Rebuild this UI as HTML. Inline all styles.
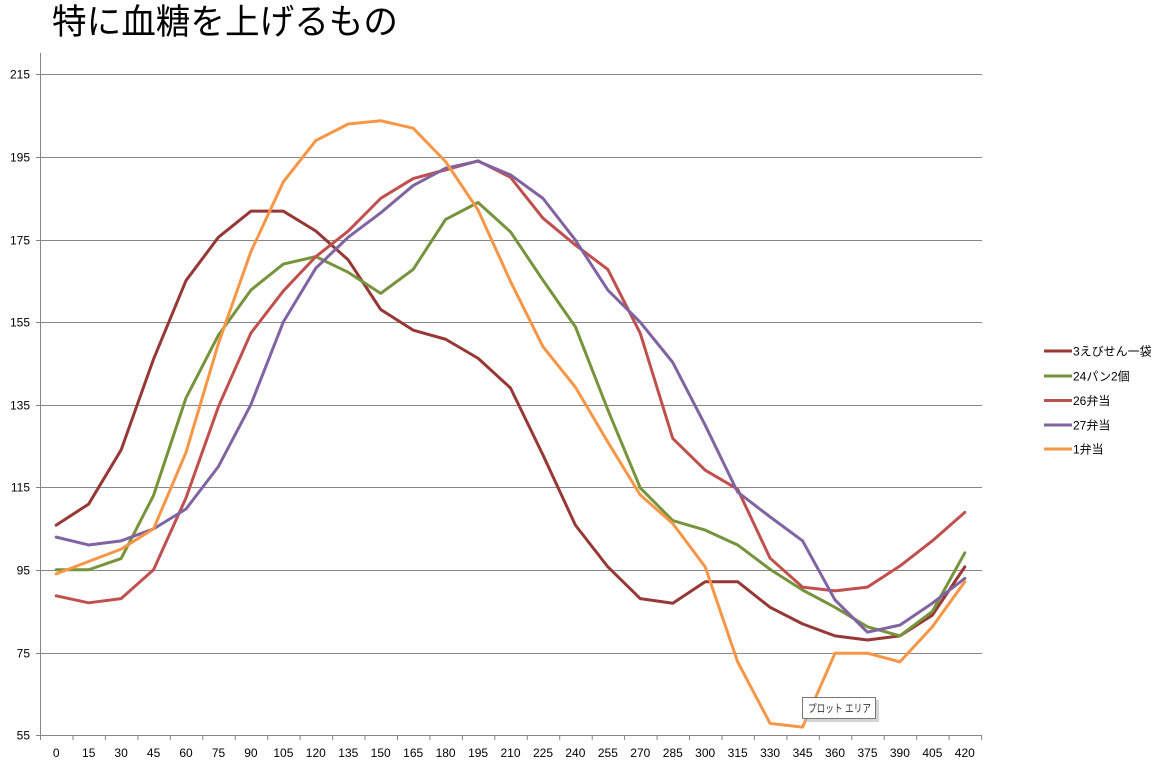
<!DOCTYPE html>
<html>
<head>
<meta charset="utf-8">
<style>
html,body{margin:0;padding:0;background:#fff;}
body{width:1172px;height:772px;overflow:hidden;}
svg{display:block;}
text{font-family:"Liberation Sans","Noto Sans CJK JP",sans-serif;}
</style>
</head>
<body>
<svg width="1172" height="772" viewBox="0 0 1172 772" xmlns="http://www.w3.org/2000/svg">
<rect width="1172" height="772" fill="#fff"/>
<text x="52" y="34" font-size="35" fill="#000" textLength="346" lengthAdjust="spacingAndGlyphs" style="font-family:'Noto Sans CJK JP','Liberation Sans',sans-serif;">特に血糖を上げるもの</text>

<!-- gridlines -->
<g stroke="#868686" stroke-width="1">
<line x1="36" y1="74.5" x2="982" y2="74.5"/>
<line x1="36" y1="157.5" x2="982" y2="157.5"/>
<line x1="36" y1="240.5" x2="982" y2="240.5"/>
<line x1="36" y1="322.5" x2="982" y2="322.5"/>
<line x1="36" y1="405.5" x2="982" y2="405.5"/>
<line x1="36" y1="487.5" x2="982" y2="487.5"/>
<line x1="36" y1="570.5" x2="982" y2="570.5"/>
<line x1="36" y1="653.5" x2="982" y2="653.5"/>
<line x1="36" y1="735.5" x2="982" y2="735.5"/>
<line x1="40.5" y1="53" x2="40.5" y2="736"/>
</g>
<!-- x ticks -->
<g stroke="#868686" stroke-width="1">
<line x1="40.5" y1="735" x2="40.5" y2="740"/><line x1="73" y1="735" x2="73" y2="740"/><line x1="105.4" y1="735" x2="105.4" y2="740"/><line x1="137.9" y1="735" x2="137.9" y2="740"/><line x1="170.3" y1="735" x2="170.3" y2="740"/><line x1="202.8" y1="735" x2="202.8" y2="740"/><line x1="235.2" y1="735" x2="235.2" y2="740"/><line x1="267.7" y1="735" x2="267.7" y2="740"/><line x1="300.1" y1="735" x2="300.1" y2="740"/><line x1="332.6" y1="735" x2="332.6" y2="740"/><line x1="365" y1="735" x2="365" y2="740"/><line x1="397.5" y1="735" x2="397.5" y2="740"/><line x1="429.9" y1="735" x2="429.9" y2="740"/><line x1="462.4" y1="735" x2="462.4" y2="740"/><line x1="494.8" y1="735" x2="494.8" y2="740"/><line x1="527.3" y1="735" x2="527.3" y2="740"/><line x1="559.7" y1="735" x2="559.7" y2="740"/><line x1="592.2" y1="735" x2="592.2" y2="740"/><line x1="624.6" y1="735" x2="624.6" y2="740"/><line x1="657.1" y1="735" x2="657.1" y2="740"/><line x1="689.5" y1="735" x2="689.5" y2="740"/><line x1="722" y1="735" x2="722" y2="740"/><line x1="754.4" y1="735" x2="754.4" y2="740"/><line x1="786.9" y1="735" x2="786.9" y2="740"/><line x1="819.3" y1="735" x2="819.3" y2="740"/><line x1="851.8" y1="735" x2="851.8" y2="740"/><line x1="884.2" y1="735" x2="884.2" y2="740"/><line x1="916.7" y1="735" x2="916.7" y2="740"/><line x1="949.1" y1="735" x2="949.1" y2="740"/><line x1="981.6" y1="735" x2="981.6" y2="740"/>
</g>

<!-- y labels -->
<g font-size="12" fill="#000" text-anchor="end">
<text x="30" y="78.5">215</text>
<text x="30" y="161.5">195</text>
<text x="30" y="244.5">175</text>
<text x="30" y="326.5">155</text>
<text x="30" y="409.5">135</text>
<text x="30" y="491.5">115</text>
<text x="30" y="574.5">95</text>
<text x="30" y="657.5">75</text>
<text x="30" y="739.5">55</text>
</g>
<!-- x labels -->
<g font-size="12" fill="#000" text-anchor="middle">
<text x="56.2" y="757">0</text><text x="88.7" y="757">15</text><text x="121.1" y="757">30</text><text x="153.6" y="757">45</text><text x="186" y="757">60</text><text x="218.5" y="757">75</text><text x="250.9" y="757">90</text><text x="283.4" y="757">105</text><text x="315.8" y="757">120</text><text x="348.3" y="757">135</text><text x="380.7" y="757">150</text><text x="413.2" y="757">165</text><text x="445.6" y="757">180</text><text x="478.1" y="757">195</text><text x="510.5" y="757">210</text><text x="543" y="757">225</text><text x="575.4" y="757">240</text><text x="607.9" y="757">255</text><text x="640.3" y="757">270</text><text x="672.8" y="757">285</text><text x="705.2" y="757">300</text><text x="737.7" y="757">315</text><text x="770.1" y="757">330</text><text x="802.6" y="757">345</text><text x="835" y="757">360</text><text x="867.5" y="757">375</text><text x="899.9" y="757">390</text><text x="932.4" y="757">405</text><text x="964.8" y="757">420</text>
</g>

<!-- series -->
<g transform="matrix(32.45 0 0 -4.131 56.2 962.2)" fill="none" stroke-linejoin="round" stroke-linecap="round">
<polyline vector-effect="non-scaling-stroke" stroke="#963836" stroke-width="3" points="0,105.8 1,110.9 2,124 3,146 4,165 5,175.5 6,181.8 7,181.8 8,177 9,170 10,158 11,153 12,150.8 13,146.2 14,139 15,122.8 16,105.8 17,95.7 18,88 19,86.9 20,92.1 21,92.1 22,85.9 23,81.9 24,79 25,78 26,79 27,84 28,95.7"/>
<polyline vector-effect="non-scaling-stroke" stroke="#77933C" stroke-width="3" points="0,95 1,95 2,97.7 3,113 4,136.6 5,151.8 6,162.7 7,169 8,170.8 9,167 10,161.9 11,167.7 12,179.8 13,183.9 14,176.8 15,165.1 16,153.8 17,133.7 18,114.8 19,106.9 20,104.6 21,101 22,95.1 23,90.1 24,85.9 25,81.2 26,79 27,84.9 28,99.1"/>
<polyline vector-effect="non-scaling-stroke" stroke="#C0504D" stroke-width="3" points="0,88.7 1,87 2,88 3,95 4,112.4 5,134.5 6,152.3 7,162.5 8,170.8 9,177 10,184.9 11,189.7 12,191.8 13,194 14,190 15,180.1 16,173.6 17,167.7 18,152.2 19,126.8 20,119.1 21,114.5 22,97.8 23,90.8 24,89.9 25,90.8 26,95.9 27,102 28,108.9"/>
<polyline vector-effect="non-scaling-stroke" stroke="#8064A2" stroke-width="3" points="0,102.9 1,101 2,102 3,104.9 4,109.7 5,120 6,135 7,155 8,168 9,175.5 10,181.4 11,188 12,192.2 13,193.9 14,190.6 15,184.9 16,174.8 17,162.7 18,154.9 19,145.2 20,130 21,113.8 22,107.8 23,102 24,87.7 25,79.9 26,81.6 27,86.9 28,92.9"/>
<polyline vector-effect="non-scaling-stroke" stroke="#F79646" stroke-width="3" points="0,94 1,97 2,100 3,104.9 4,123.4 5,149.8 6,172 7,188.9 8,198.9 9,202.9 10,203.7 11,201.9 12,193.8 13,182.1 14,164.8 15,149 16,139.2 17,125.9 18,113.1 19,106.2 20,95.7 21,72.7 22,57.8 23,56.9 24,74.8 25,74.8 26,72.7 27,81.2 28,92.1"/>
</g>

<!-- legend -->
<g stroke-width="3">
<line x1="1044" y1="351" x2="1072" y2="351" stroke="#963836"/>
<line x1="1044" y1="376" x2="1072" y2="376" stroke="#77933C"/>
<line x1="1044" y1="400.5" x2="1072" y2="400.5" stroke="#C0504D"/>
<line x1="1044" y1="425" x2="1072" y2="425" stroke="#8064A2"/>
<line x1="1044" y1="449" x2="1072" y2="449" stroke="#F79646"/>
</g>
<g font-size="12" fill="#000">
<text x="1073" y="355.5">3えびせん一袋</text>
<text x="1073" y="380.5">24パン2個</text>
<text x="1073" y="405">26弁当</text>
<text x="1073" y="429.5">27弁当</text>
<text x="1073" y="453.5">1弁当</text>
</g>

<!-- tooltip -->
<rect x="805" y="700" width="74" height="22" fill="#b8b8b8" opacity="0.6"/>
<rect x="802.5" y="697.5" width="73" height="21" fill="#fff" stroke="#767676" stroke-width="1"/>
<text x="808" y="712" font-size="11" fill="#333" textLength="63" lengthAdjust="spacingAndGlyphs">プロット エリア</text>
</svg>
</body>
</html>
